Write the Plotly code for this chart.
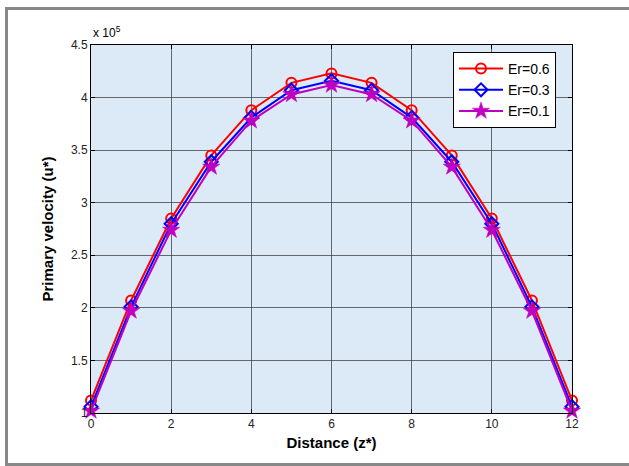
import plotly.graph_objects as go

z = [0, 1, 2, 3, 4, 5, 6, 7, 8, 9, 10, 11, 12]
u_er06 = [1.12, 2.07, 2.85, 3.45, 3.88, 4.14, 4.23, 4.14, 3.88, 3.45, 2.85, 2.07, 1.12]
u_er03 = [1.06, 2.01, 2.80, 3.39, 3.81, 4.07, 4.16, 4.07, 3.81, 3.39, 2.80, 2.01, 1.06]
u_er01 = [1.02, 1.97, 2.74, 3.34, 3.78, 4.03, 4.12, 4.03, 3.78, 3.34, 2.74, 1.97, 1.02]
x_ticks = [0, 2, 4, 6, 8, 10, 12]
y_ticks = [1, 1.5, 2, 2.5, 3, 3.5, 4, 4.5]
y_tick_text = ["1", "1.5", "2", "2.5", "3", "3.5", "4", "4.5"]

FONT = "Liberation Sans, Arial, sans-serif"

fig = go.Figure()
fig.add_trace(go.Scatter(x=z, y=u_er06, mode="lines+markers", name="Er=0.6", cliponaxis=False,
                         line=dict(color="#ff0000", width=2),
                         marker=dict(symbol="circle-open", size=10, color="#ff0000",
                                     line=dict(width=2, color="#ff0000"))))
fig.add_trace(go.Scatter(x=z, y=u_er03, mode="lines+markers", name="Er=0.3", cliponaxis=False,
                         line=dict(color="#0000ff", width=2),
                         marker=dict(symbol="diamond-open", size=10, color="#0000ff",
                                     line=dict(width=2, color="#0000ff"))))
fig.add_trace(go.Scatter(x=z, y=u_er01, mode="lines+markers", name="Er=0.1", cliponaxis=False,
                         line=dict(color="#c000c0", width=2),
                         marker=dict(symbol="star", size=13, color="#c000c0",
                                     line=dict(width=0.5, color="#c000c0"))))

axis_common = dict(showline=True, linecolor="black", linewidth=1, mirror="ticks",
                   ticks="inside", ticklen=4, tickcolor="black",
                   showgrid=True, gridcolor="rgba(60,60,60,0.75)", gridwidth=1,
                   zeroline=False, tickfont=dict(family=FONT, size=12, color="#222"))

fig.update_xaxes(range=[0, 12], tickvals=x_ticks,
                 title=dict(text="<b>Distance (z*)</b>", font=dict(family=FONT, size=15, color="black"),
                            standoff=7),
                 **axis_common)
fig.update_yaxes(range=[1, 4.5], tickvals=y_ticks, ticktext=y_tick_text,
                 title=dict(text="<b>Primary velocity (u*)</b>", font=dict(family=FONT, size=15, color="black"),
                            standoff=13),
                 **axis_common)

fig.add_annotation(xref="paper", yref="paper", x=0, y=1, xanchor="left", yanchor="bottom",
                   text="x 10<sup>5</sup>", showarrow=False, yshift=3,
                   font=dict(family=FONT, size=12, color="black"))

fig.add_shape(type="rect", xref="paper", yref="paper",
              x0=-0.1757, x1=1.973, y0=-0.14, y1=1.0992,
              line=dict(color="#888888", width=3), fillcolor="rgba(0,0,0,0)", layer="below")

fig.update_layout(
    width=629, height=466,
    margin=dict(l=91, r=57, t=45, b=53),
    paper_bgcolor="white", plot_bgcolor="#dce9f7",
    font=dict(family=FONT, color="black"),
    legend=dict(x=0.7526, y=0.981, xanchor="left", yanchor="top",
                bgcolor="white", bordercolor="black", borderwidth=1,
                font=dict(family=FONT, size=14, color="black"),
                itemwidth=44, entrywidth=115, tracegroupgap=0),
    showlegend=True,
)

fig.write_html("out.html")
